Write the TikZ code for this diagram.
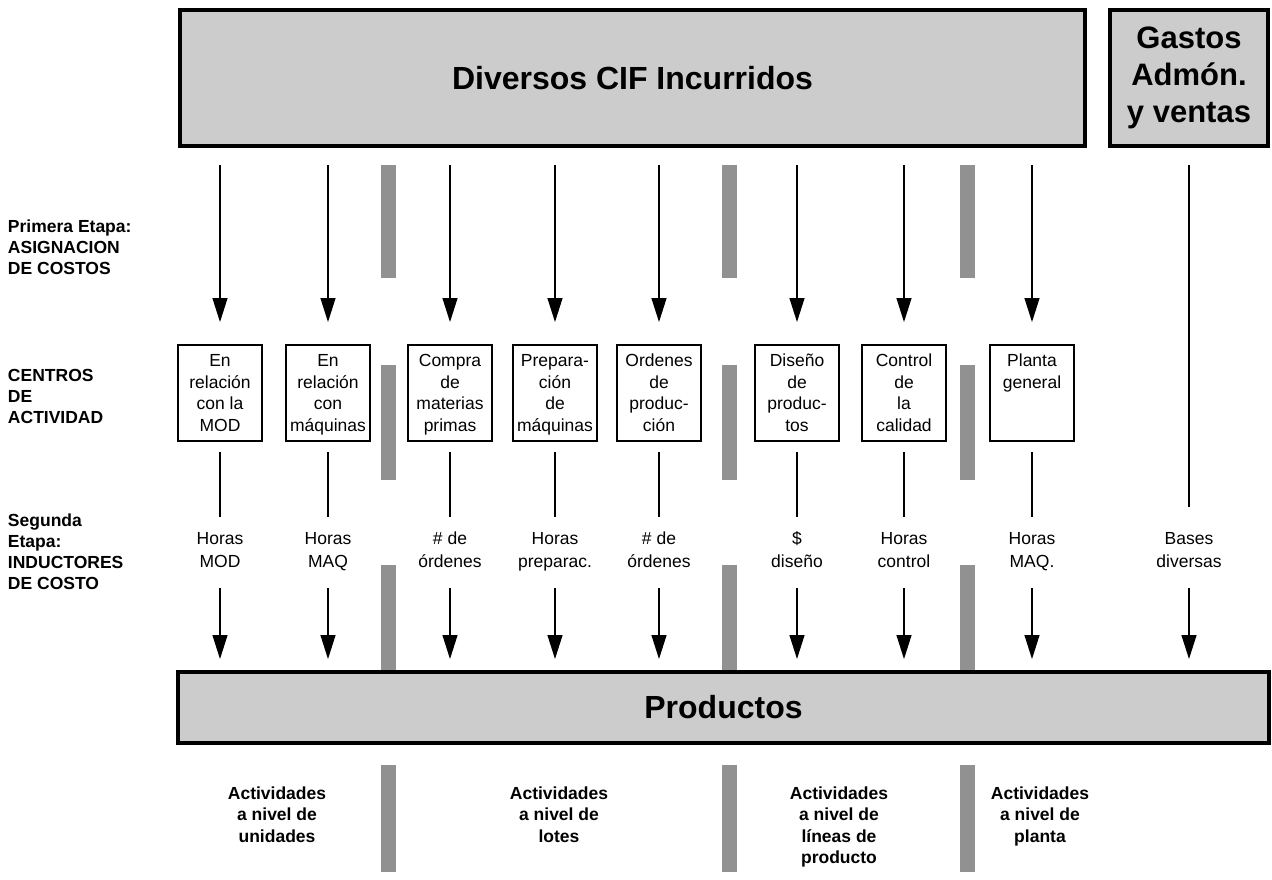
\documentclass[tikz,border=0pt]{standalone}
\usepackage{fontspec}
\setmainfont{Liberation Sans}
\usetikzlibrary{arrows.meta}
\definecolor{boxgray}{RGB}{204,204,204}
\definecolor{bargray}{RGB}{145,145,145}
% fixed line strut so that multi-line labels centre evenly
\newcommand\lnstrut{\rule[-5pt]{0pt}{22pt}}

\begin{document}
\begin{tikzpicture}[x=1pt,y=-1pt,
  every node/.style={outer sep=0pt},
  bigbox/.style={draw, line width=3.2pt, fill=boxgray, inner sep=0pt,
    font=\bfseries\fontsize{32}{38}\selectfont},
  actbox/.style={draw, line width=2.2pt, inner sep=0pt, minimum width=84pt,
    minimum height=96pt, align=center, font=\fontsize{17.5}{21.5}\selectfont},
  driver/.style={inner sep=0pt, minimum height=56pt, align=center,
    font=\fontsize{17.5}{21}\selectfont},
  sidelabel/.style={anchor=west, align=left, inner sep=0pt,
    font=\bfseries\fontsize{17.5}{21}\selectfont},
  levellabel/.style={anchor=north, align=center, inner sep=0pt,
    font=\bfseries\fontsize{17.5}{21.5}\selectfont},
  arr/.style={line width=1.3pt, -{Triangle[length=24pt,width=15pt]}},
  link/.style={line width=1.3pt},
  bar/.style={fill=bargray}
]
\useasboundingbox (0,0) rectangle (1272,880);

% grey separators between activity levels
\foreach \bx in {381,722,960}{
  \fill[bar] (\bx,165) rectangle ++(15,113);
  \fill[bar] (\bx,365) rectangle ++(15,115);
  \fill[bar] (\bx,565) rectangle ++(15,107);
  \fill[bar] (\bx,765) rectangle ++(15,107);
}

% cost pools and products
\node[bigbox, minimum width=905pt, minimum height=136pt] (cif) at (632.5,78) {Diversos CIF Incurridos};
\node[bigbox, minimum width=158pt, minimum height=136pt, align=center,
  font=\bfseries\fontsize{31}{37}\selectfont] (gav) at (1189,78) {Gastos\\Admón.\\y ventas};
\node[bigbox, minimum width=1091pt, minimum height=71pt] (prod) at (723.5,707.5) {Productos};

% activity centres
\node[actbox] (a1) at (220,393) {\lnstrut En\\relación\\con la\\MOD\lnstrut};
\node[actbox] (a2) at (328,393) {\lnstrut En\\relación\\con\\máquinas\lnstrut};
\node[actbox] (a3) at (450,393) {\lnstrut Compra\\de\\materias\\primas\lnstrut};
\node[actbox] (a4) at (555,393) {\lnstrut Prepara-\\ción\\de\\máquinas\lnstrut};
\node[actbox] (a5) at (659,393) {\lnstrut Ordenes\\de\\produc-\\ción\lnstrut};
\node[actbox] (a6) at (797,393) {\lnstrut Diseño\\de\\produc-\\tos\lnstrut};
\node[actbox] (a7) at (904,393) {\lnstrut Control\\de\\la\\calidad\lnstrut};
\node[actbox] (a8) at (1032,393) {\lnstrut Planta\\general\\~\\~\lnstrut};

% cost drivers
\node[driver] (d1) at (220,550) {\lnstrut Horas\\MOD\lnstrut};
\node[driver] (d2) at (328,550) {\lnstrut Horas\\MAQ\lnstrut};
\node[driver] (d3) at (450,550) {\lnstrut\# de\\órdenes\lnstrut};
\node[driver] (d4) at (555,550) {\lnstrut Horas\\preparac.\lnstrut};
\node[driver] (d5) at (659,550) {\lnstrut\# de\\órdenes\lnstrut};
\node[driver] (d6) at (797,550) {\lnstrut\$\\diseño\lnstrut};
\node[driver] (d7) at (904,550) {\lnstrut Horas\\control\lnstrut};
\node[driver] (d8) at (1032,550) {\lnstrut Horas\\MAQ.\lnstrut};
\node[driver] (d9) at (1189,550) {\lnstrut Bases\\diversas\lnstrut};

% stage labels
\node[sidelabel] (l1) at (8,247) {\lnstrut Primera Etapa:\\ASIGNACION\\DE COSTOS\lnstrut};
\node[sidelabel] (l2) at (8,396) {\lnstrut CENTROS\\DE\\ACTIVIDAD\lnstrut};
\node[sidelabel] (l3) at (8,552) {\lnstrut Segunda\\Etapa:\\INDUCTORES\\DE COSTO\lnstrut};

% activity levels
\node[levellabel] (n1) at (277,782) {\lnstrut Actividades\\a nivel de\\unidades};
\node[levellabel] (n2) at (559,782) {\lnstrut Actividades\\a nivel de\\lotes};
\node[levellabel] (n3) at (839,782) {\lnstrut Actividades\\a nivel de\\líneas de\\producto};
\node[levellabel] (n4) at (1040,782) {\lnstrut Actividades\\a nivel de\\planta};

% flows
\foreach \i in {1,...,8}{
  \draw[arr, shorten <=19pt, shorten >=23pt] (a\i.north |- cif.south) -- (a\i.north);
  \draw[link, shorten <=11pt, shorten >=5pt] (a\i.south) -- (d\i.north);
  \draw[arr, shorten <=10pt, shorten >=13pt] (d\i.south) -- (d\i.south |- prod.north);
}
\draw[link, shorten <=19pt, shorten >=15pt] (gav.south) -- (d9.north);
\draw[arr, shorten <=10pt, shorten >=13pt] (d9.south) -- (d9.south |- prod.north);
\end{tikzpicture}
\end{document}
